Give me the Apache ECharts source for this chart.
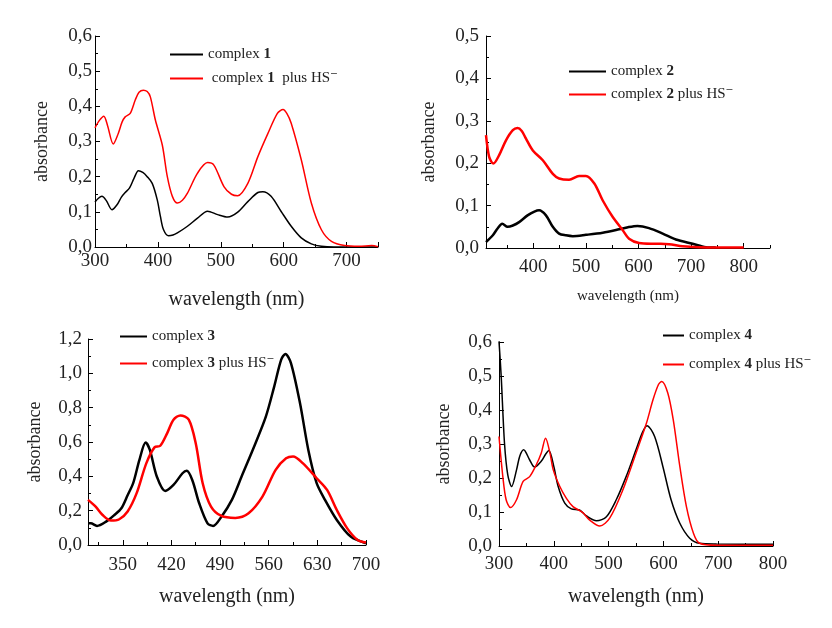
<!DOCTYPE html>
<html>
<head>
<meta charset="utf-8">
<script src="https://cdn.jsdelivr.net/npm/echarts@6/dist/echarts.min.js"></script>
<style>
html,body{margin:0;padding:0;background:#fff;}
#chart{width:832px;height:628px;}
</style>
</head>
<body>
<div id="chart"></div>
<script>
// ---- Panel 1: complex 1 ----
const wl1 = [300,305,311,318,327,335,342,348,355,362,369,376,383,391,399,404,409,417,424,431,447,463,479,495,511,527,543,559,567,580,596,612,628,644,660,680,700,750];
const abs1 = [0.128,0.138,0.144,0.132,0.106,0.120,0.142,0.155,0.168,0.195,0.217,0.212,0.200,0.181,0.134,0.087,0.049,0.032,0.034,0.040,0.059,0.082,0.102,0.092,0.085,0.099,0.129,0.155,0.157,0.144,0.101,0.059,0.026,0.009,0.002,0.0,0.0,0.0];
const wl1hs = [300,307,314,320,329,337,343,348,356,364,370,377,383,388,396,407,415,423,431,439,447,463,479,489,505,517,527,543,559,575,590,599,605,612,628,644,660,676,697,720,740,750];
const abs1hs = [0.339,0.360,0.372,0.345,0.293,0.323,0.355,0.370,0.380,0.418,0.440,0.446,0.442,0.427,0.361,0.290,0.200,0.144,0.125,0.133,0.153,0.210,0.240,0.233,0.172,0.150,0.146,0.181,0.257,0.323,0.380,0.391,0.380,0.352,0.248,0.125,0.049,0.016,0.004,0.002,0.004,0.001];

// ---- Panel 2: complex 2 ----
const wl2 = [310,323,332,341,351,361,373,389,402,411,424,437,449,462,475,500,532,563,580,598,620,646,671,703,728,747];
const abs2 = [0.014,0.030,0.046,0.057,0.050,0.053,0.061,0.077,0.086,0.089,0.077,0.050,0.034,0.030,0.028,0.031,0.036,0.044,0.049,0.052,0.047,0.034,0.020,0.010,0.002,0.001];
const wl2hs = [310,316,324,335,348,361,370,378,386,399,418,437,449,468,487,500,516,532,551,570,582,601,633,658,684,715,800];
const abs2hs = [0.266,0.215,0.199,0.219,0.254,0.278,0.283,0.276,0.258,0.230,0.207,0.175,0.164,0.161,0.170,0.170,0.152,0.112,0.073,0.042,0.022,0.012,0.010,0.009,0.004,0.002,0.001];
const ticks2 = [400,500,600,700,800];
const minor2 = [350,450,550,650,750,850];

// ---- Panel 3: complex 3 ----
const wl3 = [300,304,313,326,338,348,357,365,374,383,389,399,411,423,436,442,450,460,472,480,492,507,521,541,556,568,578,584,592,605,617,629,641,658,678,700];
const abs3 = [0.126,0.126,0.111,0.136,0.175,0.214,0.290,0.360,0.496,0.597,0.554,0.399,0.315,0.350,0.418,0.432,0.379,0.243,0.126,0.111,0.165,0.263,0.399,0.593,0.749,0.924,1.080,1.113,1.060,0.827,0.554,0.360,0.263,0.146,0.049,0.010];
const wl3hs = [300,311,321,333,345,357,370,384,396,404,414,423,433,445,455,465,477,492,512,531,551,570,585,595,609,629,644,658,673,688,700];
const abs3hs = [0.263,0.224,0.175,0.142,0.150,0.195,0.302,0.477,0.570,0.578,0.652,0.730,0.755,0.730,0.593,0.360,0.224,0.169,0.158,0.185,0.282,0.438,0.505,0.516,0.477,0.389,0.321,0.204,0.097,0.029,0.014];
const ticks3 = [350,420,490,560,630,700];
const minor3 = [315,385,455,525,595,665];

// ---- Panel 4: complex 4 ----
const wl4 = [300,304,310,316,323,332,338,345,356,365,377,385,391,400,408,420,432,447,459,478,496,514,532,550,562,570,584,599,614,630,648,666,697,800];
const abs4 = [0.602,0.499,0.303,0.209,0.175,0.224,0.265,0.283,0.253,0.232,0.249,0.270,0.281,0.234,0.175,0.126,0.109,0.106,0.089,0.074,0.086,0.136,0.204,0.283,0.335,0.354,0.322,0.234,0.136,0.067,0.023,0.008,0.006,0.005];
const wl4hs = [300,307,313,321,332,344,356,368,377,385,393,399,411,423,435,453,465,484,502,526,550,569,581,591,597,608,618,630,642,655,666,697,800];
const abs4hs = [0.322,0.204,0.136,0.113,0.136,0.190,0.204,0.239,0.273,0.317,0.273,0.224,0.175,0.140,0.116,0.098,0.077,0.059,0.082,0.165,0.273,0.361,0.430,0.475,0.484,0.450,0.371,0.234,0.116,0.037,0.008,0.002,0.002];

const FONT = '"Liberation Serif","DejaVu Serif",serif';
const TXT = '#222';
const RED = '#ff0000';
const BLK = '#000000';

function pairs(xs, ys){ return xs.map((x,i)=>[x, ys[i]]); }
function comma(v){ return v.toFixed(1).replace('.', ','); }

const grids = [
  {left:95, top:36, width:283, height:211},
  {left:486, top:36, width:284, height:212},
  {left:88, top:339, width:278, height:206},
  {left:499, top:342, width:274, height:204}
];

function lbl(margin, extra){
  return Object.assign({fontFamily:FONT, fontSize:19, color:TXT, margin:margin}, extra || {});
}
function xAx(i, o){
  return Object.assign({
    type:'value', gridIndex:i, position:'bottom',
    name:'wavelength (nm)', nameLocation:'middle', nameGap:43,
    nameTextStyle:{fontFamily:FONT, fontSize:20, color:TXT},
    axisLine:{show:true, onZero:false, lineStyle:{color:'#000', width:1}},
    axisTick:{show:true, inside:true, length:5, lineStyle:{color:'#000'}},
    minorTick:{show:true, splitNumber:2, length:3, lineStyle:{color:'#000'}},
    axisLabel:lbl(5),
    splitLine:{show:false}
  }, o);
}
function yAx(i, o){
  return Object.assign({
    type:'value', gridIndex:i, min:0, interval:0.1,
    name:'absorbance', nameLocation:'middle', nameGap:44, nameRotate:90,
    nameTextStyle:{fontFamily:FONT, fontSize:18, color:TXT},
    axisLine:{show:true, onZero:false, lineStyle:{color:'#000', width:1}},
    axisTick:{show:true, inside:true, length:5, lineStyle:{color:'#000'}},
    minorTick:{show:true, splitNumber:2, length:3, lineStyle:{color:'#000'}},
    axisLabel:lbl(4, {formatter:comma}),
    splitLine:{show:false}
  }, o);
}
function minorAx(i, mn, mx, vals){
  return {
    type:'value', gridIndex:i, position:'bottom', min:mn, max:mx,
    axisLine:{show:false}, axisLabel:{show:false}, splitLine:{show:false},
    axisTick:{show:true, inside:true, length:3, customValues:vals, lineStyle:{color:'#000'}}
  };
}

const xAxis = [
  xAx(0, {min:300, max:750, interval:100, axisLabel:lbl(5, {showMaxLabel:false})}),
  xAx(1, {min:310, max:850, nameGap:41, nameTextStyle:{fontFamily:FONT, fontSize:15, color:TXT},
          minorTick:{show:false},
          axisTick:{show:true, inside:true, length:5, customValues:ticks2, lineStyle:{color:'#000'}},
          axisLabel:lbl(10, {customValues:ticks2})}),
  xAx(2, {min:300, max:700, nameGap:42, minorTick:{show:false},
          axisTick:{show:true, inside:true, length:5, customValues:ticks3, lineStyle:{color:'#000'}},
          axisLabel:lbl(11, {customValues:ticks3})}),
  xAx(3, {min:300, max:800, interval:100, nameGap:41, axisLabel:lbl(9)}),
  minorAx(1, 310, 850, minor2),
  minorAx(2, 300, 700, minor3)
];
const yAxis = [
  yAx(0, {max:0.6, axisLabel:lbl(3, {formatter:comma})}),
  yAx(1, {max:0.5, nameGap:48, axisLabel:lbl(7, {formatter:comma})}),
  yAx(2, {max:1.2, interval:0.2, axisLabel:lbl(6, {formatter:comma})}),
  yAx(3, {max:0.6, nameGap:46, axisLabel:lbl(7, {formatter:comma})})
];

function ser(name, xs, ys, idx, color, w){
  return {name:name, type:'line', xAxisIndex:idx, yAxisIndex:idx, data:pairs(xs, ys),
    showSymbol:false, symbol:'none', smooth:0.3, lineStyle:{color:color, width:w}, itemStyle:{color:color}};
}
const series = [
  ser('complex 1', wl1, abs1, 0, BLK, 1.5),
  ser('complex 1 plus HS-', wl1hs, abs1hs, 0, RED, 1.5),
  ser('complex 2', wl2, abs2, 1, BLK, 2.5),
  ser('complex 2 plus HS-', wl2hs, abs2hs, 1, RED, 2.5),
  ser('complex 3', wl3, abs3, 2, BLK, 2.5),
  ser('complex 3 plus HS-', wl3hs, abs3hs, 2, RED, 2.5),
  ser('complex 4', wl4, abs4, 3, BLK, 1.5),
  ser('complex 4 plus HS-', wl4hs, abs4hs, 3, RED, 1.5)
];

const rich = {
  n:{fontFamily:FONT, fontSize:15, color:TXT, lineHeight:18},
  b:{fontFamily:FONT, fontSize:15, fontWeight:'bold', color:TXT, lineHeight:18}
};
function legFmt(name){
  const m = name.match(/complex (\d)( plus HS-)?/);
  if (m[2]) {
    return (m[1]==='1' ? '{n| complex }{b|' + m[1] + '}{n|  plus HS⁻}' : '{n|complex }{b|' + m[1] + '}{n| plus HS⁻}');
  }
  return '{n|complex }{b|' + m[1] + '}';
}
function leg(k, left, top, w, gap){
  return {data:['complex '+k, 'complex '+k+' plus HS-'], left:left, top:top, orient:'vertical',
    icon:'rect', itemWidth:w, itemHeight:2, itemGap:gap, padding:0, selectedMode:false,
    formatter:legFmt, textStyle:{rich:rich}};
}
const legend = [
  leg(1, 170, 47, 33, 9),
  leg(2, 569, 64, 37, 8),
  leg(3, 120, 329, 27, 12),
  leg(4, 663, 328, 21, 14)
];

const chart = echarts.init(document.getElementById('chart'), null, {renderer:'canvas'});
chart.setOption({
  animation:false,
  backgroundColor:'#fff',
  grid:grids,
  xAxis:xAxis,
  yAxis:yAxis,
  legend:legend,
  series:series
});
</script>
</body>
</html>
